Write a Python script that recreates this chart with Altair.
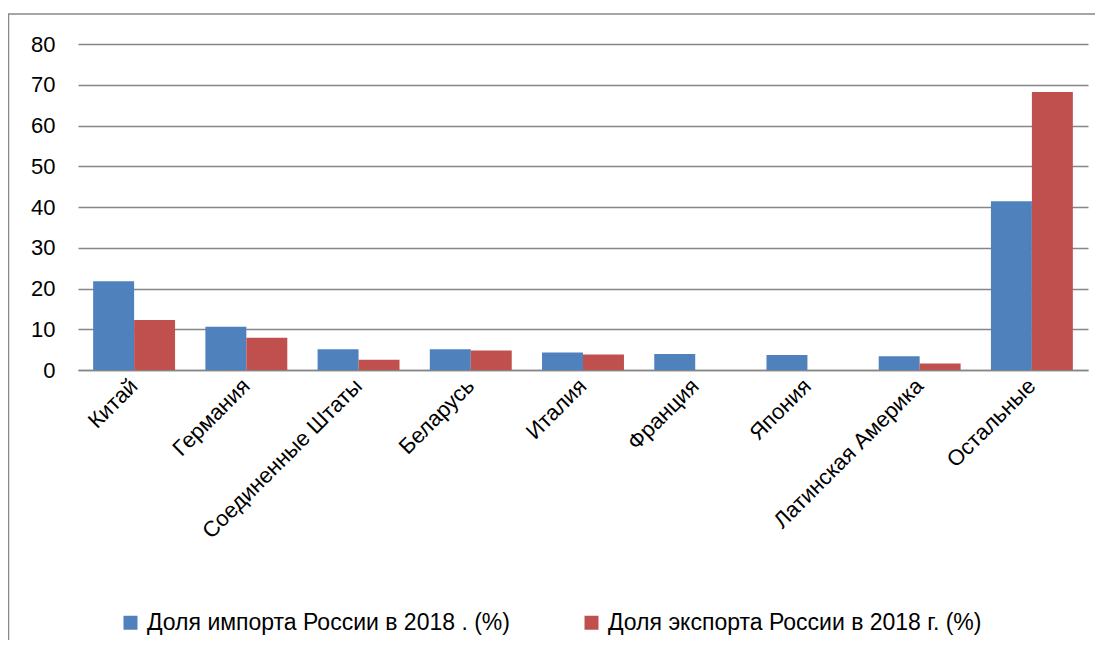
import altair as alt
import pandas as pd

countries = ["Китай", "Германия", "Соединенные Штаты", "Беларусь", "Италия",
             "Франция", "Япония", "Латинская Америка", "Остальные"]
import_share = [21.8, 10.6, 5.1, 5.1, 4.3, 3.9, 3.7, 3.4, 41.4]
export_share = [12.3, 7.9, 2.5, 4.8, 3.8, 0, 0, 1.6, 68.2]
series = ["Доля импорта России в 2018 . (%)", "Доля  экспорта России в 2018 г. (%)"]
colors = ["#4F81BD", "#C0504D"]

rows = []
for i, c in enumerate(countries):
    rows.append({"country": c, "series": series[0], "value": import_share[i]})
    rows.append({"country": c, "series": series[1], "value": export_share[i]})
df = pd.DataFrame(rows)

FONT = "Liberation Sans"
FS = 22
W, H = 1010, 326

bars = alt.Chart(df).mark_bar().encode(
    x=alt.X("country:N", sort=countries,
            scale=alt.Scale(paddingInner=0.27, paddingOuter=0.135),
            axis=alt.Axis(title=None, labelAngle=-45, labelAlign="right",
                          labelBaseline="middle", labelFontSize=FS, labelFont=FONT,
                          labelColor="#000", ticks=False, domainColor="#868686",
                          domainWidth=1.5, labelPadding=12, labelLimit=400)),
    xOffset=alt.XOffset("series:N", sort=series,
                        scale=alt.Scale(paddingInner=0, paddingOuter=0)),
    y=alt.Y("value:Q", scale=alt.Scale(domain=[0, 80], nice=False),
            axis=alt.Axis(title=None, values=list(range(0, 81, 10)),
                          labelFontSize=FS, labelFont=FONT, labelColor="#000",
                          ticks=False, domain=False, gridColor="#868686",
                          gridWidth=1.5, labelPadding=23)),
    color=alt.Color("series:N", sort=series,
                    scale=alt.Scale(domain=series, range=colors),
                    legend=alt.Legend(title=None, orient="none", direction="horizontal",
                                      legendX=41, legendY=567, symbolType="square",
                                      symbolSize=196, symbolStrokeWidth=0,
                                      labelFontSize=23, labelFont=FONT,
                                      labelColor="#000", labelLimit=600,
                                      columnPadding=70, labelOffset=5)),
)

border = alt.Chart(pd.DataFrame({"a": [0]})).mark_rect(
    fill=None, stroke="#888888", strokeWidth=1.5
).encode(
    x=alt.value(-69.5), x2=alt.value(1040),
    y=alt.value(-30), y2=alt.value(640),
)

chart = alt.layer(border, bars).properties(
    width=W, height=H,
    autosize=alt.AutoSizeParams(type="none"),
    padding={"left": 70, "top": 36, "right": 7, "bottom": 270},
).configure_view(stroke=None)

chart.save("out.html", embed_options={"renderer": "svg", "actions": False})
